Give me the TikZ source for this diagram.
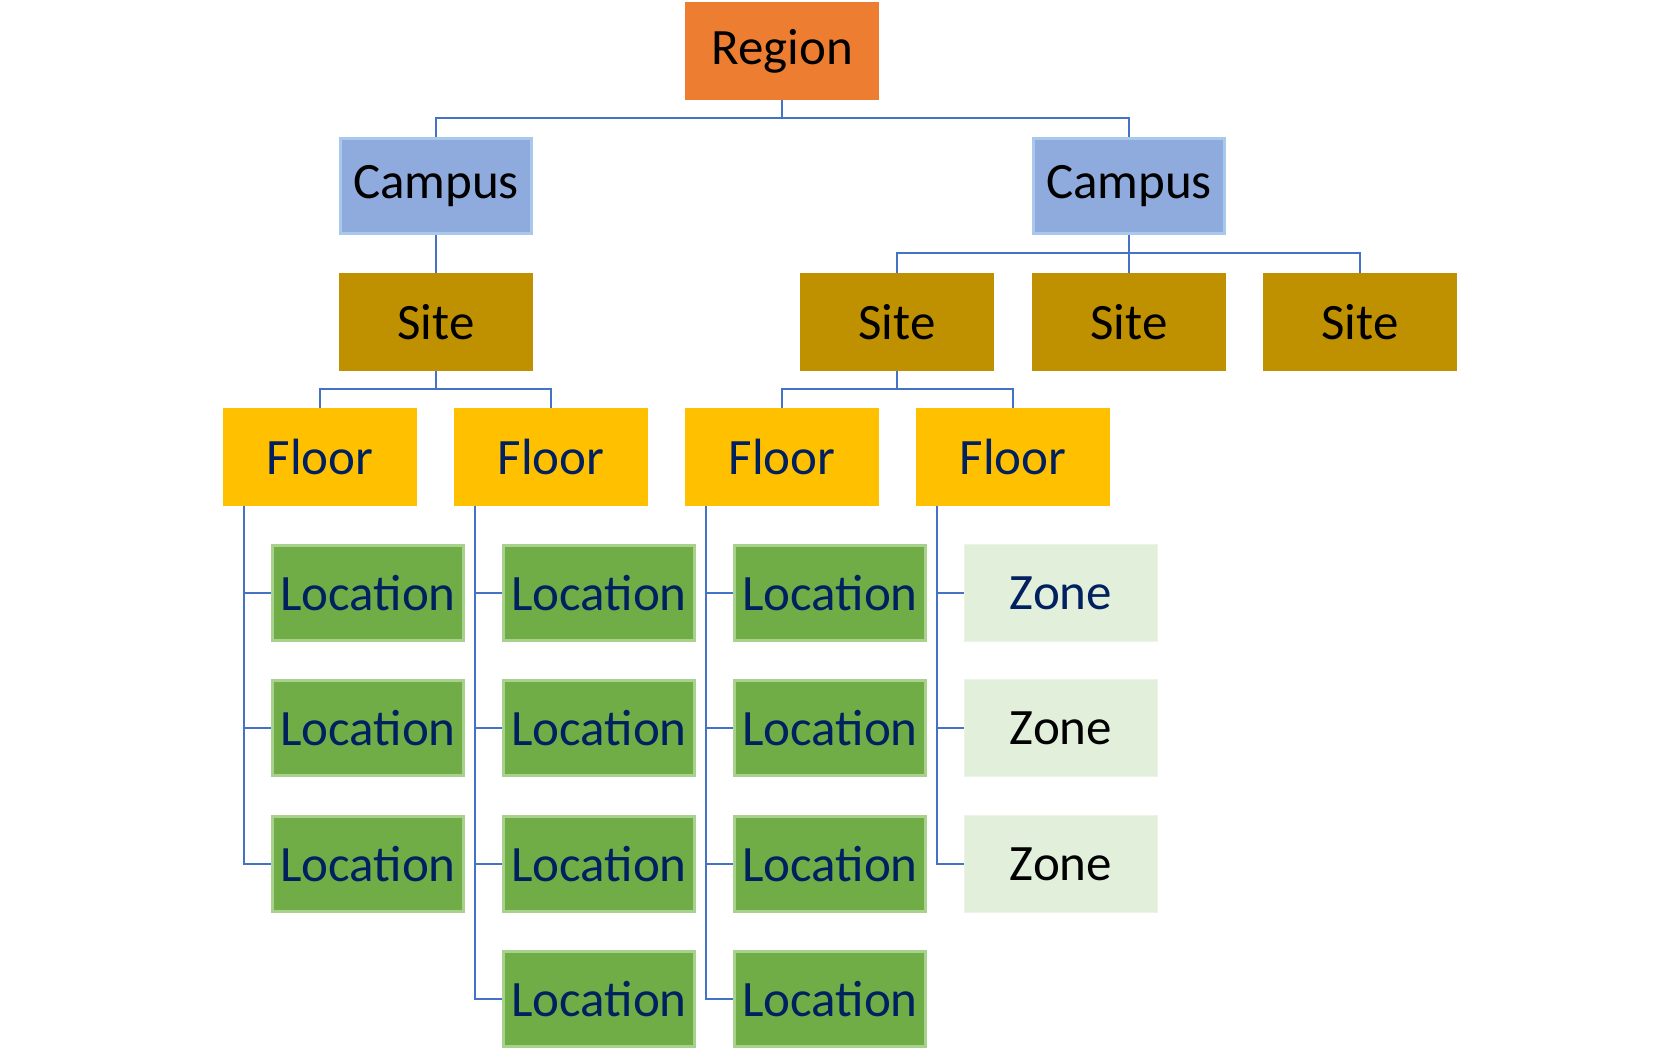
\documentclass[tikz,border=0pt]{standalone}
\usepackage{fontspec}
\setmainfont{Carlito}
\usetikzlibrary{calc}
\definecolor{regionfill}{HTML}{ED7D31}
\definecolor{campusfill}{HTML}{8FAADC}
\definecolor{campusedge}{HTML}{A8C8EC}
\definecolor{sitefill}{HTML}{BF9000}
\definecolor{floorfill}{HTML}{FFC000}
\definecolor{locfill}{HTML}{70AD47}
\definecolor{locedge}{HTML}{A9D18E}
\definecolor{zonefill}{HTML}{E2EFDA}
\definecolor{zoneedge}{HTML}{EAF3E4}
\definecolor{navy}{HTML}{002060}
\definecolor{wire}{HTML}{4472C4}
\tikzset{
  box/.style={minimum width=194pt, minimum height=98pt, inner sep=0pt,
    font=\fontsize{51}{60}\selectfont},
  regionbox/.style={box, fill=regionfill, text=black},
  campusbox/.style={box, minimum width=191pt, minimum height=95pt,
    fill=campusfill, draw=campusedge, line width=2.5pt, text=black},
  sitebox/.style={box, fill=sitefill, text=black},
  floorbox/.style={box, fill=floorfill, text=navy},
  locbox/.style={box, minimum width=191pt, minimum height=95pt,
    fill=locfill, draw=locedge, line width=3pt, text=navy},
  zonebox/.style={box, minimum width=193pt, minimum height=97pt,
    fill=zonefill, draw=zoneedge, line width=1.5pt, text=black},
  wire/.style={draw=wire, line width=2.3pt},
}
\begin{document}
\begin{tikzpicture}[x=1pt, y=-1pt]
\useasboundingbox (0,0) rectangle (1680,1060);

% top levels
\node[regionbox] (region) at (782,51) {Region};
\node[campusbox] (campusA) at (436,186) {Campus};
\node[campusbox] (campusB) at (1129,186) {Campus};

% sites
\node[sitebox] (siteA) at (436,322) {Site};
\node[sitebox] (siteB) at (897,322) {Site};
\node[sitebox] (siteC) at (1129,322) {Site};
\node[sitebox] (siteD) at (1360,322) {Site};

% floors
\node[floorbox] (floorA) at (320,457) {Floor};
\node[floorbox] (floorB) at (551,457) {Floor};
\node[floorbox] (floorC) at (782,457) {Floor};
\node[floorbox] (floorD) at (1013,457) {Floor};

% locations under the first floor
\node[locbox] (locA1) at (368,593) {Location};
\node[locbox] (locA2) at (368,728) {Location};
\node[locbox] (locA3) at (368,864) {Location};
% locations under the second floor
\node[locbox] (locB1) at (599,593) {Location};
\node[locbox] (locB2) at (599,728) {Location};
\node[locbox] (locB3) at (599,864) {Location};
\node[locbox] (locB4) at (599,999) {Location};
% locations under the third floor
\node[locbox] (locC1) at (830,593) {Location};
\node[locbox] (locC2) at (830,728) {Location};
\node[locbox] (locC3) at (830,864) {Location};
\node[locbox] (locC4) at (830,999) {Location};
% zones under the fourth floor
\node[zonebox, text=navy] (zone1) at (1061,593) {Zone};
\node[zonebox] (zone2) at (1061,728) {Zone};
\node[zonebox] (zone3) at (1061,864) {Zone};

% tree connectors
\draw[wire] (region.south) -- ++(0,18) coordinate (busR) -| (campusA.north);
\draw[wire] (busR) -| (campusB.north);
\draw[wire] (campusA.south) -- (siteA.north);
\draw[wire] (campusB.south) -- ++(0,18) coordinate (busC) -| (siteB.north);
\draw[wire] (busC) -- (siteC.north);
\draw[wire] (busC) -| (siteD.north);
\draw[wire] (siteA.south) -- ++(0,18) coordinate (busSA) -| (floorA.north);
\draw[wire] (busSA) -| (floorB.north);
\draw[wire] (siteB.south) -- ++(0,18) coordinate (busSB) -| (floorC.north);
\draw[wire] (busSB) -| (floorD.north);

% floor spines with stubs to their children
\coordinate (spA) at ($(floorA.south west)+(21,0)$);
\coordinate (spB) at ($(floorB.south west)+(21,0)$);
\coordinate (spC) at ($(floorC.south west)+(21,0)$);
\coordinate (spD) at ($(floorD.south west)+(21,0)$);
\draw[wire] (spA) |- (locA3.west);
\draw[wire] (spA) |- (locA1.west);
\draw[wire] (spA) |- (locA2.west);
\draw[wire] (spB) |- (locB4.west);
\draw[wire] (spB) |- (locB1.west);
\draw[wire] (spB) |- (locB2.west);
\draw[wire] (spB) |- (locB3.west);
\draw[wire] (spC) |- (locC4.west);
\draw[wire] (spC) |- (locC1.west);
\draw[wire] (spC) |- (locC2.west);
\draw[wire] (spC) |- (locC3.west);
\draw[wire] (spD) |- (zone3.west);
\draw[wire] (spD) |- (zone1.west);
\draw[wire] (spD) |- (zone2.west);
\end{tikzpicture}
\end{document}
